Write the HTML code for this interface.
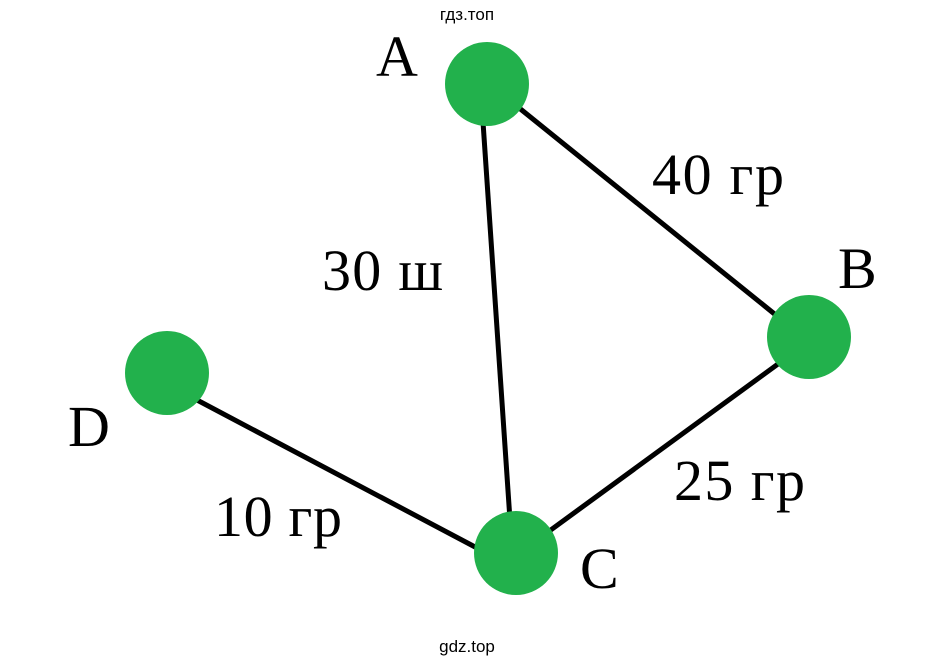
<!DOCTYPE html>
<html><head><meta charset="utf-8"><style>
html,body{margin:0;padding:0;background:#fff;}
svg{display:block;}
.l{font-family:"Liberation Serif",serif;font-size:58px;fill:#000;}
.w{font-family:"Liberation Sans",sans-serif;font-size:17px;fill:#000;}
</style></head><body>
<svg width="935" height="666" viewBox="0 0 935 666" xmlns="http://www.w3.org/2000/svg">
<text class="w" x="467" y="20" text-anchor="middle">гдз.топ</text>
<text class="w" x="467" y="652" text-anchor="middle">gdz.top</text>
<g stroke="#000" stroke-width="5" stroke-linecap="round">
<line x1="483" y1="122" x2="510" y2="520"/>
<line x1="513" y1="103" x2="777" y2="316"/>
<line x1="778" y1="364" x2="548" y2="532"/>
<line x1="197" y1="400" x2="477" y2="548"/>
</g>
<g fill="#22b14c">
<circle cx="487" cy="84" r="42"/>
<circle cx="809" cy="337" r="42"/>
<circle cx="516" cy="553" r="42"/>
<circle cx="167" cy="373" r="42"/>
</g>
<text class="l" x="376" y="76">A</text>
<text class="l" x="652" y="194" textLength="132" lengthAdjust="spacing">40 гр</text>
<text class="l" x="838" y="288">B</text>
<text class="l" x="322" y="290" textLength="121" lengthAdjust="spacing">30 ш</text>
<text class="l" x="68" y="446">D</text>
<text class="l" x="214" y="536" textLength="128" lengthAdjust="spacing">10 гр</text>
<text class="l" x="674" y="500" textLength="131" lengthAdjust="spacing">25 гр</text>
<text class="l" x="580" y="588">C</text>
</svg>
</body></html>
